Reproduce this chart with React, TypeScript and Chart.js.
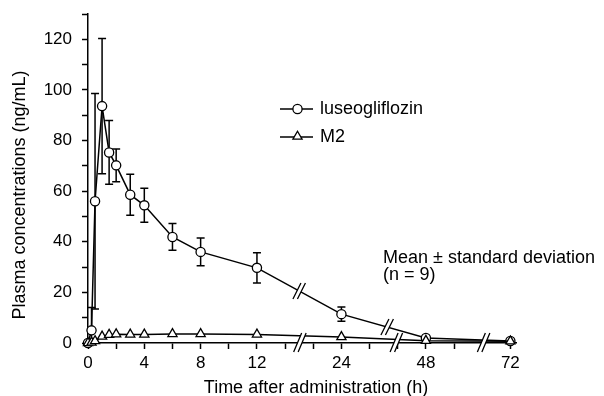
import React, { useEffect, useRef } from 'react';
import { Chart, registerables } from 'chart.js';

Chart.register(...registerables);

// ---- data ----
const timesH = [0, 0.25, 0.5, 1, 1.5, 2, 3, 4, 6, 8, 12, 24, 48, 72];
const luseoMean = [0, 5, 56, 93.6, 75.3, 70.2, 58.6, 54.4, 41.9, 36.0, 29.7, 11.4, 2.0, 0.8];
const luseoSD = [0, 9, 42.6, 26.7, 12.6, 6.5, 8.1, 6.7, 5.3, 5.5, 6.0, 2.8, 0.6, 0.3];
const m2Mean = [0, 0.2, 0.8, 2.6, 3.3, 3.5, 3.4, 3.4, 3.6, 3.6, 3.4, 2.4, 0.9, 0.7];
const xTickHours = [0, 4, 8, 12, 24, 48, 72];
const xTickLabels = ['0', '4', '8', '12', '24', '48', '72'];
const yLabelTicks = [0, 20, 40, 60, 80, 100, 120];

const seriesNames = ['luseogliflozin', 'M2'];
const yTitle = 'Plasma concentrations (ng/mL)';
const xTitle = 'Time after administration (h)';
const noteLines = ['Mean \u00b1 standard deviation', '(n = 9)'];

// broken time axis: hours -> axis units
const axisAnchors: [number, number][] = [[0, 0], [12, 12], [24, 18], [48, 24], [72, 30]];
const toAxis = (h: number): number => {
  for (let i = 1; i < axisAnchors.length; i++) {
    const [h0, u0] = axisAnchors[i - 1];
    const [h1, u1] = axisAnchors[i];
    if (h <= h1) return u0 + ((h - h0) * (u1 - u0)) / (h1 - h0);
  }
  return 30;
};
const axisBreaksU = [15.05, 21.9, 28.1];
const lineBreaksU = [15, 21.25];

const FONT = '"Liberation Sans", Arial, Helvetica, sans-serif';

function drawBreak(ctx: CanvasRenderingContext2D, cx: number, cy: number, h: number, slant: number, gap: number) {
  const a1x = cx - gap / 2 - slant / 2, a1y = cy + h / 2;
  const b1x = cx - gap / 2 + slant / 2, b1y = cy - h / 2;
  ctx.save();
  ctx.fillStyle = '#fff';
  ctx.beginPath();
  ctx.moveTo(a1x, a1y);
  ctx.lineTo(b1x, b1y);
  ctx.lineTo(b1x + gap, b1y);
  ctx.lineTo(a1x + gap, a1y);
  ctx.closePath();
  ctx.fill();
  ctx.strokeStyle = '#000';
  ctx.lineWidth = 1.3;
  ctx.beginPath();
  ctx.moveTo(a1x, a1y);
  ctx.lineTo(b1x, b1y);
  ctx.moveTo(a1x + gap, a1y);
  ctx.lineTo(b1x + gap, b1y);
  ctx.stroke();
  ctx.restore();
}

function drawTriangle(ctx: CanvasRenderingContext2D, x: number, y: number, r: number) {
  ctx.beginPath();
  let rad = 0;
  ctx.moveTo(x + Math.sin(rad) * r, y - Math.cos(rad) * r);
  rad += (2 * Math.PI) / 3;
  ctx.lineTo(x + Math.sin(rad) * r, y - Math.cos(rad) * r);
  rad += (2 * Math.PI) / 3;
  ctx.lineTo(x + Math.sin(rad) * r, y - Math.cos(rad) * r);
  ctx.closePath();
  ctx.fill();
  ctx.stroke();
}

const errorBarPlugin = {
  id: 'errorBars',
  beforeDatasetsDraw(chart: any) {
    const ctx = chart.ctx as CanvasRenderingContext2D;
    const xs = chart.scales.x, ys = chart.scales.y;
    const area = chart.chartArea;
    ctx.save();
    ctx.beginPath();
    ctx.rect(area.left - 10, area.top - 5, area.right - area.left + 20, area.bottom - area.top + 5);
    ctx.clip();
    ctx.strokeStyle = '#000';
    ctx.lineWidth = 1.5;
    timesH.forEach((t, i) => {
      const sd = luseoSD[i];
      if (!sd) return;
      const px = xs.getPixelForValue(toAxis(t));
      const top = ys.getPixelForValue(luseoMean[i] + sd);
      const bot = ys.getPixelForValue(luseoMean[i] - sd);
      ctx.beginPath();
      ctx.moveTo(px, top);
      ctx.lineTo(px, bot);
      ctx.moveTo(px - 4, top);
      ctx.lineTo(px + 4, top);
      ctx.moveTo(px - 4, bot);
      ctx.lineTo(px + 4, bot);
      ctx.stroke();
    });
    ctx.restore();
  },
};

const decorPlugin = {
  id: 'decor',
  afterDraw(chart: any) {
    const ctx = chart.ctx as CanvasRenderingContext2D;
    const xs = chart.scales.x;
    const area = chart.chartArea;

    // breaks on the luseogliflozin line
    const pts = chart.getDatasetMeta(0).data;
    lineBreaksU.forEach((u) => {
      const px = xs.getPixelForValue(u);
      for (let i = 1; i < pts.length; i++) {
        const p0 = pts[i - 1], p1 = pts[i];
        if (p0.x <= px && p1.x >= px) {
          const f = (px - p0.x) / (p1.x - p0.x);
          const py = p0.y + f * (p1.y - p0.y);
          drawBreak(ctx, px, py, 16, 8, 4.5);
          break;
        }
      }
    });
    // breaks on the time axis
    axisBreaksU.forEach((u) => {
      drawBreak(ctx, xs.getPixelForValue(u), area.bottom - 0.5, 19, 8, 4.5);
    });

    // titles
    ctx.save();
    ctx.fillStyle = '#000';
    ctx.font = `18px ${FONT}`;
    ctx.textAlign = 'center';
    ctx.textBaseline = 'alphabetic';
    ctx.fillText(xTitle, 316, 393);
    ctx.translate(25, 195);
    ctx.rotate(-Math.PI / 2);
    ctx.fillText(yTitle, 0, 0);
    ctx.restore();

    // legend
    ctx.save();
    ctx.strokeStyle = '#000';
    ctx.fillStyle = '#fff';
    ctx.lineWidth = 1.5;
    const ly = [109, 137];
    ly.forEach((y) => {
      ctx.beginPath();
      ctx.moveTo(280, y);
      ctx.lineTo(313, y);
      ctx.stroke();
    });
    ctx.lineWidth = 1.3;
    ctx.beginPath();
    ctx.arc(297.5, ly[0], 4.6, 0, Math.PI * 2);
    ctx.fill();
    ctx.stroke();
    drawTriangle(ctx, 297.5, ly[1] - 0.5, 5.3);
    ctx.fillStyle = '#000';
    ctx.font = `18px ${FONT}`;
    ctx.textAlign = 'left';
    ctx.textBaseline = 'alphabetic';
    ctx.fillText(seriesNames[0], 320, 114);
    ctx.fillText(seriesNames[1], 320, 142);
    // note
    ctx.fillText(noteLines[0], 383, 263);
    ctx.fillText(noteLines[1], 383, 280);
    ctx.restore();
  },
};

export default function App() {
  const ref = useRef<HTMLCanvasElement | null>(null);
  useEffect(() => {
    if (!ref.current) return;
    const xLabelMap = new Map<number, string>();
    xTickHours.forEach((h, i) => xLabelMap.set(toAxis(h), xTickLabels[i]));
    const chart = new Chart(ref.current, {
      type: 'line',
      data: {
        datasets: [
          {
            label: seriesNames[0],
            data: timesH.map((t, i) => ({ x: toAxis(t), y: luseoMean[i] })),
            borderColor: '#000',
            borderWidth: 1.5,
            backgroundColor: '#fff',
            pointStyle: 'circle',
            pointRadius: 4.6,
            pointBorderWidth: 1.3,
            pointBackgroundColor: '#fff',
            pointBorderColor: '#000',
            fill: false,
            tension: 0,
            clip: false as any,
            order: 1,
          },
          {
            label: seriesNames[1],
            data: timesH.map((t, i) => ({ x: toAxis(t), y: m2Mean[i] })),
            borderColor: '#000',
            borderWidth: 1.5,
            backgroundColor: '#fff',
            pointStyle: 'triangle',
            pointRadius: 5.3,
            pointBorderWidth: 1.3,
            pointBackgroundColor: '#fff',
            pointBorderColor: '#000',
            fill: false,
            tension: 0,
            clip: false as any,
            order: 0,
          },
        ],
      },
      options: {
        animation: false,
        responsive: false,
        layout: { padding: { left: 0, top: 14, right: 88, bottom: 0 } },
        plugins: { legend: { display: false }, tooltip: { enabled: false } },
        scales: {
          x: {
            type: 'linear',
            min: 0,
            max: 30.4,
            border: { display: true, color: '#000', width: 1.5 },
            grid: { display: true, drawOnChartArea: false, drawTicks: true, tickLength: 6, tickColor: '#000', tickWidth: 1.5 },
            afterBuildTicks: (s: any) => {
              const t = [];
              for (let v = 0; v <= 30; v += 2) t.push({ value: v });
              s.ticks = t;
            },
            afterFit: (s: any) => {
              s.height = 53;
              s.paddingLeft = 0;
              s.paddingRight = 0;
              s.paddingTop = 0;
              s.paddingBottom = 0;
            },
            ticks: {
              autoSkip: false,
              maxRotation: 0,
              padding: 4,
              color: '#000',
              font: { family: FONT, size: 17 },
              callback: (v: any) => xLabelMap.get(Number(v)) ?? '',
            },
          },
          y: {
            type: 'linear',
            min: 0,
            max: 130,
            border: { display: true, color: '#000', width: 1.5 },
            grid: { display: true, drawOnChartArea: false, drawTicks: true, tickLength: 6, tickColor: '#000', tickWidth: 1.5 },
            afterBuildTicks: (s: any) => {
              const t = [];
              for (let v = 0; v <= 130; v += 10) t.push({ value: v });
              s.ticks = t;
            },
            afterFit: (s: any) => {
              s.width = 88;
              s.paddingTop = 0;
              s.paddingBottom = 0;
              s.paddingLeft = 0;
              s.paddingRight = 0;
            },
            ticks: {
              padding: 10,
              color: '#000',
              font: { family: FONT, size: 17 },
              callback: (v: any) => (yLabelTicks.includes(Number(v)) ? String(v) : ''),
            },
          },
        },
      },
      plugins: [errorBarPlugin, decorPlugin],
    });
    return () => chart.destroy();
  }, []);
  return (
    <div style={{ position: 'absolute', left: 0, top: 0, width: 604, height: 396, background: '#fff' }}>
      <canvas ref={ref} width={604} height={396} style={{ display: 'block', width: 604, height: 396 }} />
    </div>
  );
}
